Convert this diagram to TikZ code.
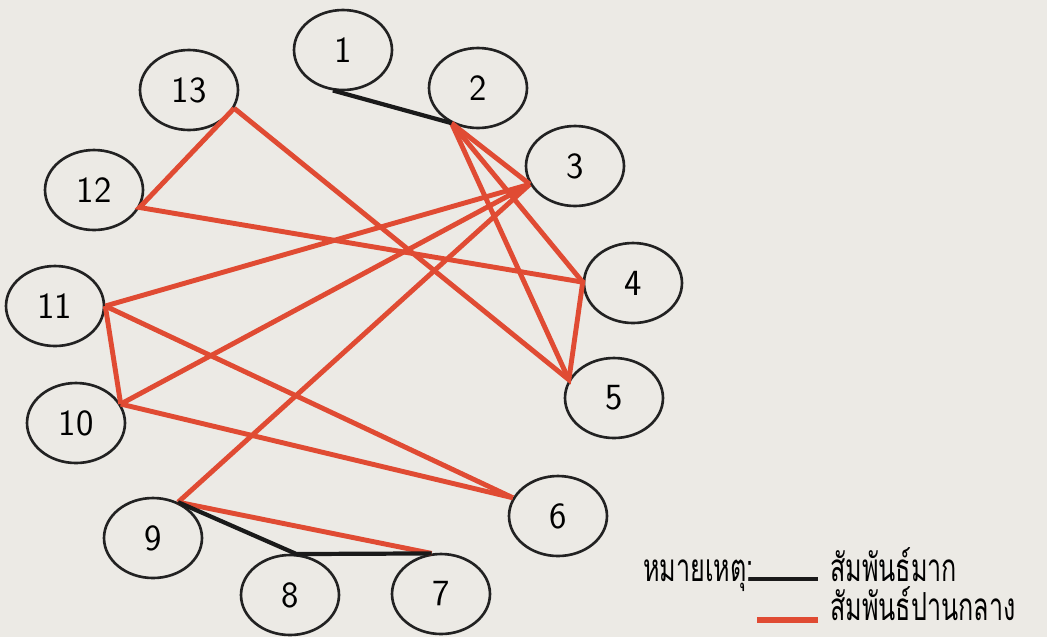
\documentclass[tikz,border=0pt]{standalone}
\usepackage{fontspec}
\newfontfamily\thaifont[Script=Thai, FakeStretch=0.65]{Loma}
\usepackage{tikz}
\usetikzlibrary{shapes.geometric}
\definecolor{paperbg}{HTML}{ECEAE5}
\definecolor{tiestrong}{HTML}{1A1A1A}
\definecolor{tiemid}{HTML}{E04B33}
\definecolor{rimdark}{HTML}{222222}
\tikzset{
  member/.style={ellipse, draw=rimdark, line width=1.5pt, minimum width=1.96cm,
    minimum height=1.6cm, inner sep=0pt, font=\fontsize{21}{21}\selectfont\sffamily},
  strongtie/.style={draw=tiestrong, line width=2.4pt},
  midtie/.style={draw=tiemid, line width=2.8pt},
  notetext/.style={font=\thaifont\fontsize{22}{24}\selectfont, anchor=base west, inner sep=0pt}
}

\begin{document}
\begin{tikzpicture}[x=0.02cm, y=-0.02cm]
\fill[paperbg] (0,0) rectangle (1047,637);
\useasboundingbox (0,0) rectangle (1047,637);

% members
\node[member] (n1) at (343,50) {1};
\node[member] (n2) at (478,88) {2};
\node[member] (n3) at (575,166) {3};
\node[member] (n4) at (633,283) {4};
\node[member] (n5) at (614,398) {5};
\node[member] (n6) at (558,516) {6};
\node[member] (n7) at (441,594) {7};
\node[member] (n8) at (290,595) {8};
\node[member] (n9) at (153,538) {9};
\node[member] (n10) at (76,423) {10};
\node[member] (n11) at (55,306) {11};
\node[member] (n12) at (94,190) {12};
\node[member] (n13) at (189,90) {13};

% moderate ties
\draw[midtie] (n13.338) -- (n12.339) -- (n4.179) -- (n5.158) -- (n13.338);
\draw[midtie] (n2.233) -- (n3.202);
\draw[midtie] (n2.233) -- (n4.179);
\draw[midtie] (n2.233) -- (n5.158);
\draw[midtie] (n3.202) -- (n11.0);
\draw[midtie] (n3.202) -- (n10.23);
\draw[midtie] (n3.202) -- (n9.55);
\draw[midtie] (n11.0) -- (n10.23);
\draw[midtie] (n11.0) -- (n6.158);
\draw[midtie] (n10.23) -- (n6.158);
\draw[midtie] (n9.55) -- (n7.103);

% strong ties
\draw[strongtie] (n1.256) -- (n2.233);
\draw[strongtie] (n9.55) -- (n8.81) -- (n7.103);

% key
\node[notetext] (notelbl) at (643,581) {หมายเหตุ:};
\node[notetext] (keystrong) at (830,581) {สัมพันธ์มาก};
\node[notetext] (keymid) at (830,620) {สัมพันธ์ปานกลาง};
\coordinate (ksA) at (749,579);
\coordinate (ksB) at (818,579);
\coordinate (kmA) at (757,620);
\coordinate (kmB) at (818,620);
\draw[strongtie, line width=2.6pt] (ksA) -- (ksB);
\draw[midtie, line width=3pt] (kmA) -- (kmB);
\end{tikzpicture}
\end{document}
